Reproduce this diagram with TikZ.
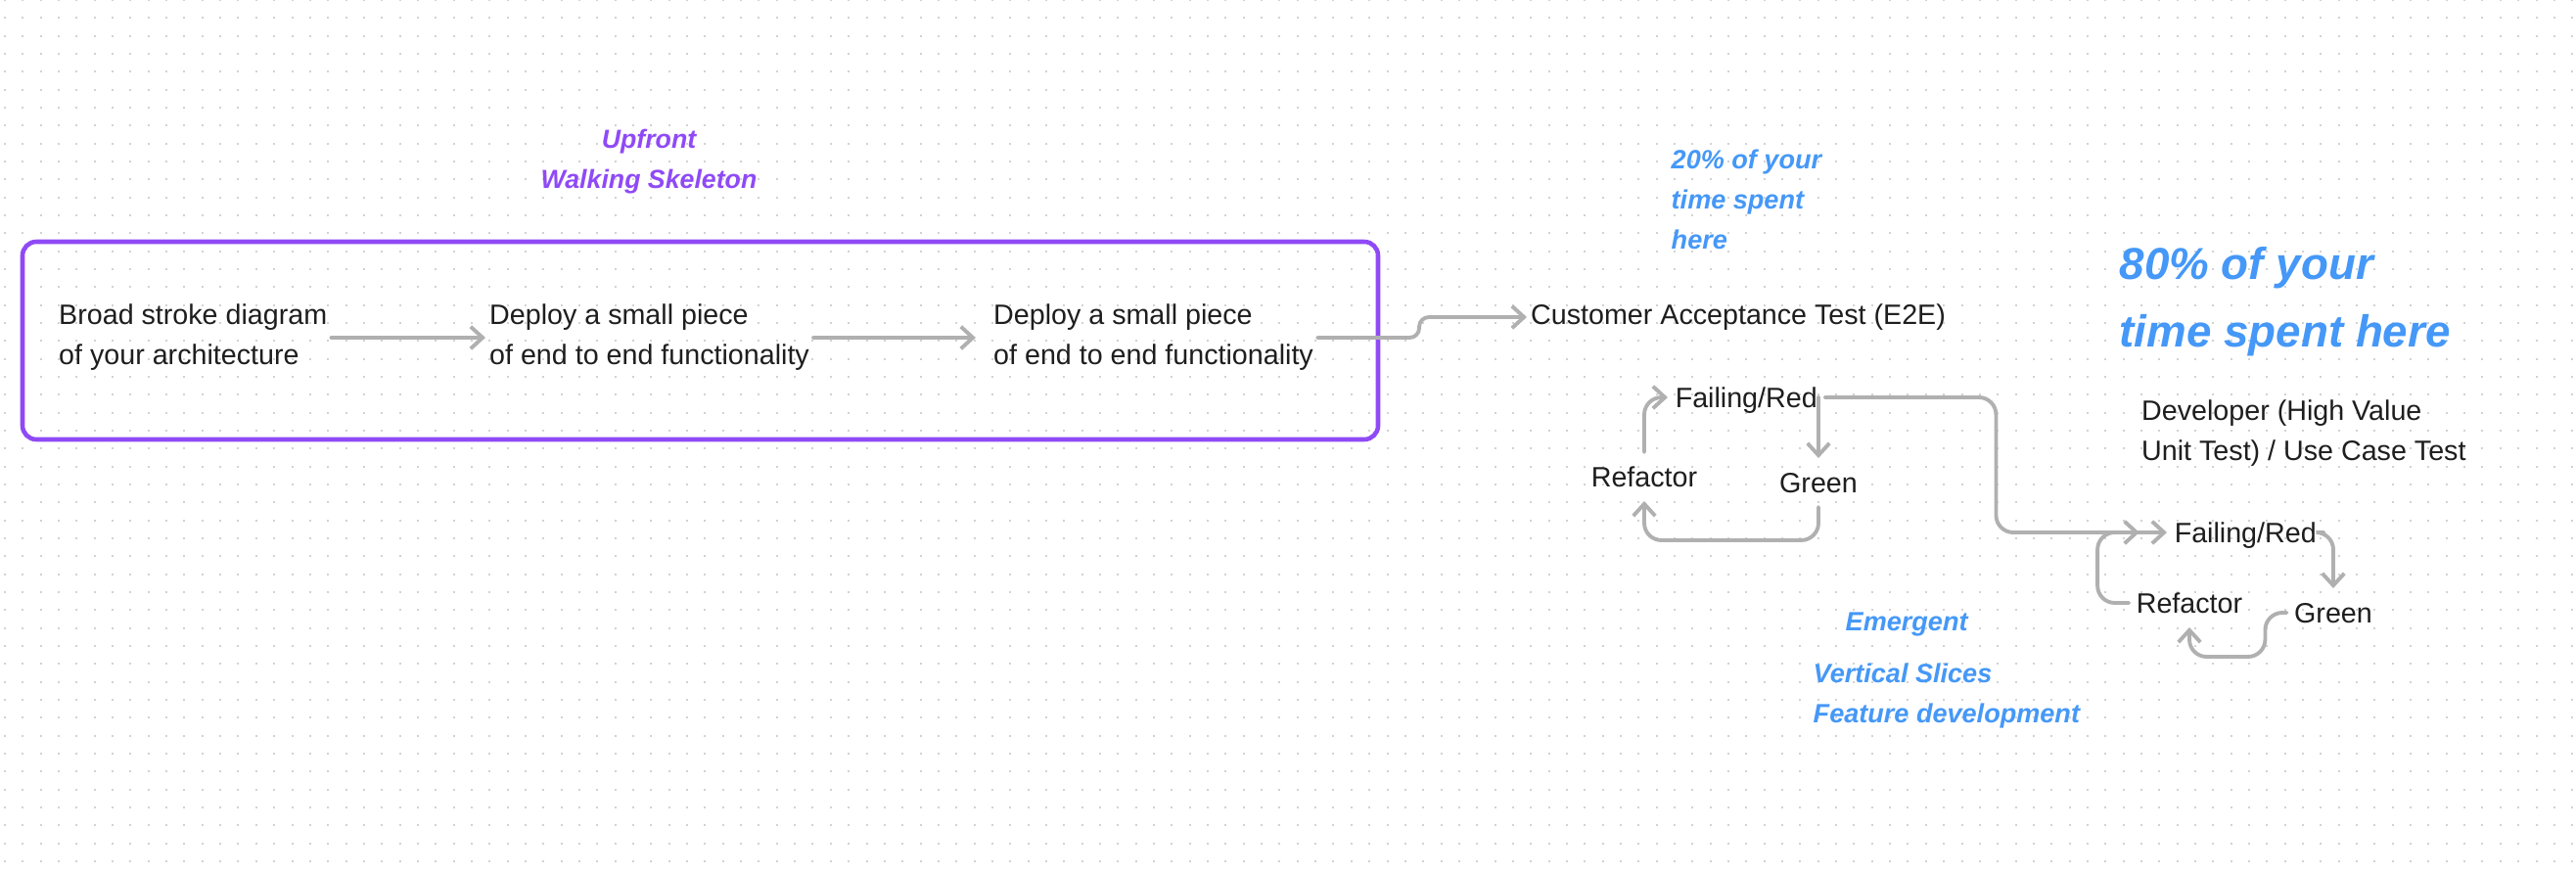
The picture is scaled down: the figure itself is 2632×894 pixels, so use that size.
\documentclass[tikz,border=0pt]{standalone}
\usepackage{fontspec}
\setmainfont{Liberation Sans}
\usetikzlibrary{arrows.meta}
\definecolor{ink}{HTML}{1E1E1E}
\definecolor{skel}{HTML}{8F4AF6}
\definecolor{note}{HTML}{4598F7}
\definecolor{wiregray}{HTML}{B0B0B0}
\definecolor{dotgray}{HTML}{D2D2D2}

\begin{document}
\begin{tikzpicture}[x=0.01cm,y=-0.01cm,
    body/.style={font=\fontsize{8.15}{11.66}\selectfont, text=ink, align=left, inner xsep=1pt, inner ysep=2pt},
    cyc/.style={font=\fontsize{8.15}{11.66}\selectfont, text=ink, inner xsep=2pt, inner ysep=4pt, text height=5.8pt, text depth=0pt},
    memo/.style={font=\fontsize{7.7}{11.66}\selectfont\bfseries\itshape, text=note, align=left, inner sep=0pt},
    link/.style={draw=wiregray, line width=1.1pt, line cap=round, rounded corners=5pt,
        -{Straight Barb[length=3.5pt,width=6.4pt]}}]
        \fill[white] (0,0) rectangle (2632,894);
        \useasboundingbox (0,0) rectangle (2632,894);

        % dotted canvas
        \foreach \r in {0,...,48}
            \draw[dotgray, line width=0.02cm, dash pattern=on 0.02cm off 0.16333cm] (4,\r*18.333) -- (2632,\r*18.333);

        % upfront part
        \draw[skel, line width=1.3pt, rounded corners=4pt] (23,247) rectangle (1408,449);
        \node[font=\fontsize{7.6}{11.66}\selectfont\bfseries\itshape, text=skel, align=center] (upfront) at (663,165) {Upfront\\Walking Skeleton};

        \node[body, anchor=west] (broad) at (56,345) {Broad stroke diagram\\of your architecture};
        \node[body, anchor=west] (deploy1) at (496,345) {Deploy a small piece\\of end to end functionality};
        \node[body, anchor=west] (deploy2) at (1011,345) {Deploy a small piece\\of end to end functionality};
        \node[body, anchor=west] (cat) at (1560,324) {Customer Acceptance Test (E2E)};

        \draw[link] (broad.east) -- (deploy1.west);
        \draw[link, shorten >=4pt] (deploy1.east) -- (deploy2.west);
        \draw[link, rounded corners=2.8pt] (deploy2.east) -- ++(104,0) |- (cat.west);

        % notes
        \node[memo, anchor=west] (twenty) at (1707,204) {20\% of your\\time spent\\here};
        \node[memo, font=\fontsize{13}{19.6}\selectfont\bfseries\itshape, anchor=west] (eighty) at (2165,308) {80\% of your\\time spent here};
        \node[body, anchor=west] (dev) at (2184,443) {Developer (High Value\\Unit Test) / Use Case Test};
        \node[memo, anchor=west] (emergent) at (1885,638) {Emergent};
        \node[memo, anchor=west] (slices) at (1852,711) {Vertical Slices\\Feature development};

        % acceptance test cycle
        \node[cyc, anchor=west] (redA) at (1704,406) {Failing/Red};
        \node[cyc] (refA) at (1680,487) {Refactor};
        \node[cyc] (greenA) at (1858,493) {Green};

        \draw[link] (refA.north) |- (redA.west);
        \draw[link] (greenA.north |- redA.east) -- (greenA.north);
        \draw[link] (greenA.south) -- ++(0,34) -| (refA.south);

        % unit test cycle
        \node[cyc, anchor=west] (redB) at (2214,544) {Failing/Red};
        \node[cyc] (refB) at (2237,616) {Refactor};
        \node[cyc] (greenB) at (2384,626) {Green};

        \draw[link, shorten >=8pt] (redA.east) -- ++(175,0) |- (redB.west);
        \draw[link] (refB.west) -- ++(-32,0) |- (redB.west);
        \draw[link] (redB.east) -| (greenB.north);
        \draw[link] (greenB.west) -- ++(-22,0) -- ++(0,45) -| (refB.south);
    \end{tikzpicture}
\end{document}
